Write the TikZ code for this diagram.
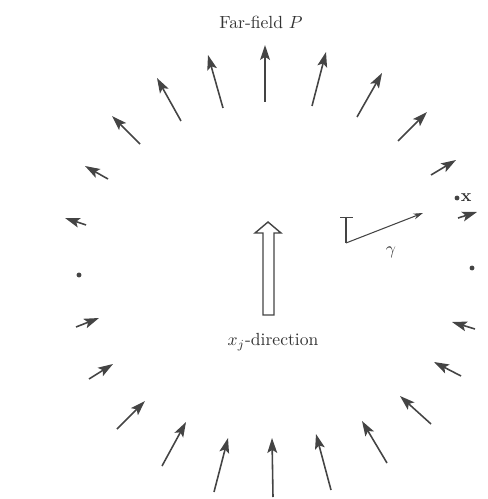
\documentclass[tikz,border=0pt]{standalone}
\usepackage{amsmath,amssymb}
\usepackage{tikz}
\usetikzlibrary{arrows.meta,calc,positioning}
\definecolor{inkgrey}{RGB}{68,68,68}

\begin{document}
\begin{tikzpicture}[x=0.02cm, y=-0.02cm,
    field/.style={-{Stealth[length=8.5pt, width=5.6pt, inset=1.8pt]}, line width=0.9pt, inkgrey},
    thin/.style={-{Stealth[length=5.5pt, width=3.4pt]}, line width=0.6pt, inkgrey},
    hollow/.style={draw=inkgrey, line width=0.8pt, fill=white, line join=miter},
    lbl/.style={font=\normalsize, text=black!80, inner sep=1pt}
]
    \useasboundingbox (0,0) rectangle (487,499);

    % far-field arrows: tail/head in picture units
    \foreach \xa/\ya/\xb/\yb in {
        265/102/265/45, 223/108/208/55, 312/106/326/52,
        181/121/157/78, 357/117/382/73,
        140/144/112/116, 398/141/427/112,
        108/179/85/166, 431/175/456/160,
        86/225/65/218, 458/218/477/212,
        76/327/99/318, 475/329/452/322,
        89/379/113/364, 461/376/434/362,
        117/429/145/401, 431/424/400/396,
        162/466/186/422, 387/463/362/421,
        214/492/228/438, 331/490/316/434,
        273/497/272/438}
        \draw[field] (\xa,\ya) -- (\xb,\yb);

    % zero points
    \fill[inkgrey] (79,275) circle (1.4pt);
    \fill[inkgrey] (472,268) circle (1.4pt);

    \node[lbl] (title) at (261,22) {Far-field $P$};

    % observer point
    \fill[inkgrey] (457,198) circle (1.4pt) coordinate (obs);
    \node[lbl, right=1pt] (obslbl) at (obs) {$\mathbf{x}$};

    % direction vector gamma
    \coordinate (gamC) at (346,243);
    \coordinate (gamT) at (346,217);
    \coordinate (gamH) at (423,213);
    \draw[inkgrey, line width=0.6pt] (gamT) -- (gamC);
    \draw[inkgrey, line width=0.5pt] ($(gamT)+(-6,0)$) -- ($(gamT)+(7,0)$);
    \draw[thin] (gamC) -- (gamH);
    \node[lbl] (gamlbl) at (391,252) {$\gamma$};

    % hollow x_j arrow
    \draw[hollow] (263,315) -- (263,233) -- (255,233) -- (268,222)
        -- (281,233) -- (274,233) -- (274,315) -- cycle;
    \node[lbl] (dirlbl) at (273,342) {$x_j$-direction};
\end{tikzpicture}
\end{document}
